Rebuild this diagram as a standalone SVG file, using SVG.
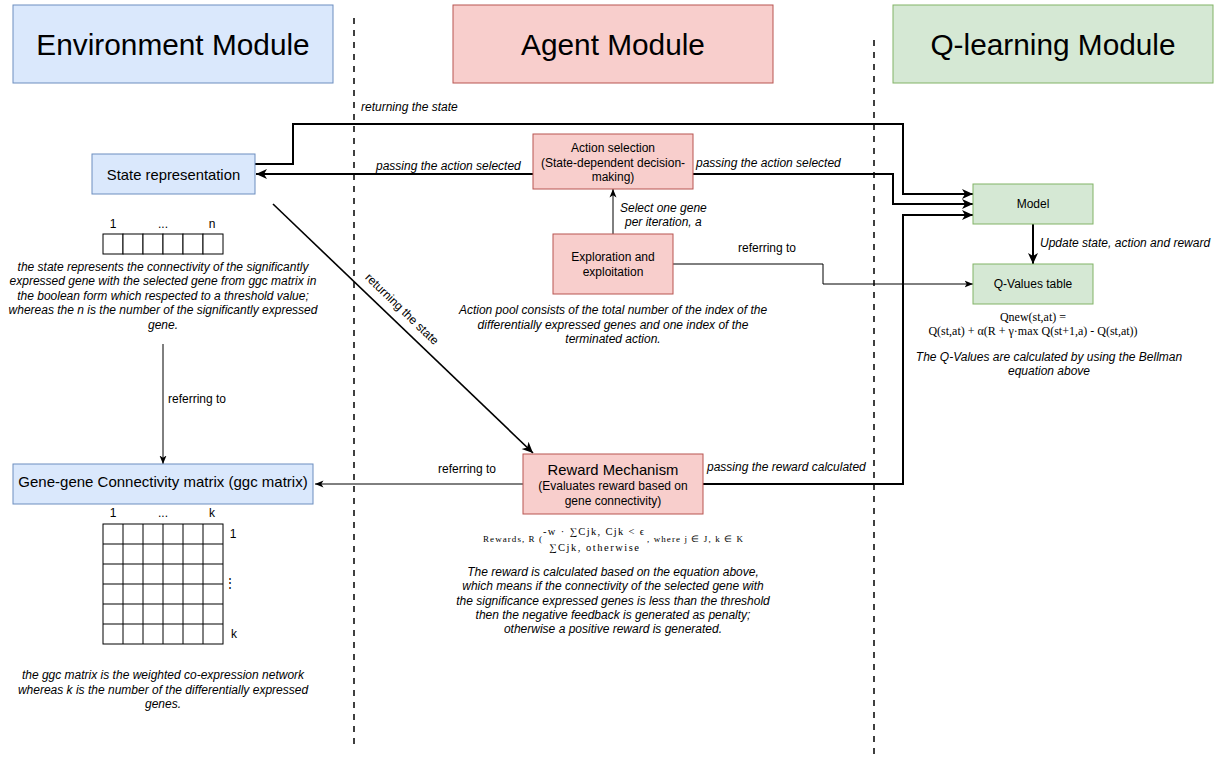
<svg xmlns="http://www.w3.org/2000/svg" width="1217" height="760" viewBox="0 0 1217 760">
<style>
text{font-family:"Liberation Sans",Arial,sans-serif;fill:#000;}
.hdr{font-size:29.8px;text-anchor:middle;dominant-baseline:central;}
.lbl{font-size:12px;text-anchor:middle;dominant-baseline:central;}
.big{font-size:14.8px;text-anchor:middle;dominant-baseline:central;}
.it{font-size:12px;font-style:italic;text-anchor:middle;dominant-baseline:central;}
.itl{font-size:12px;font-style:italic;dominant-baseline:central;}
.el{font-size:12px;dominant-baseline:central;}
.ser{font-family:"Liberation Serif","Times New Roman",serif;}
.blue{fill:#dae8fc;stroke:#6c8ebf;stroke-width:1;}
.red{fill:#f8cecc;stroke:#b85450;stroke-width:1;}
.green{fill:#d5e8d4;stroke:#82b366;stroke-width:1;}
.cell{fill:#fff;stroke:#000;stroke-width:1;}
.sep{stroke:#000;stroke-width:1.5;stroke-dasharray:6 6;fill:none;}
.thick{fill:none;stroke:#000;stroke-width:2;marker-end:url(#ah);}
.thin{fill:none;stroke:#000;stroke-width:1;marker-end:url(#as);}
</style>
<defs>
<marker id="ah" markerUnits="userSpaceOnUse" markerWidth="12" markerHeight="12" viewBox="0 0 12 12" refX="11" refY="6" orient="auto">
<path d="M0,1 L11,6 L0,11 L3,6 z" fill="#000"/>
</marker>
<marker id="as" markerUnits="userSpaceOnUse" markerWidth="9" markerHeight="9" viewBox="0 0 9 9" refX="8.5" refY="4.5" orient="auto">
<path d="M0,1 L8.5,4.5 L0,8 L2.2,4.5 z" fill="#000"/>
</marker>
</defs>
<rect width="1217" height="760" fill="#fff"/>

<g id="separators">
<line class="sep" x1="354" y1="18" x2="354" y2="748"/>
<line class="sep" x1="874" y1="40" x2="874" y2="756"/>
</g>

<g id="env-header"><rect class="blue" x="13" y="5" width="320" height="78"/><text class="hdr" x="173" y="44">Environment Module</text></g>
<g id="agent-header"><rect class="red" x="453" y="5" width="320" height="78"/><text class="hdr" x="613" y="44">Agent Module</text></g>
<g id="q-header"><rect class="green" x="893" y="5" width="320" height="78"/><text class="hdr" x="1053" y="44">Q-learning Module</text></g>

<g id="connectors">
<path class="thick" d="M255,164 H293 V124 H903 V194 H973"/>
<path class="thick" d="M533,174 H256"/>
<path class="thick" d="M693,174 H893 V204 H973"/>
<path class="thick" d="M703,484 H903 V215 H973"/>
<path class="thick" d="M1033,224 V264"/>
<path class="thick" style="stroke-width:1.6" d="M273,204 L533,453"/>
<path class="thin" d="M613,234 V189"/>
<path class="thin" d="M673,264 H823 V284 H973"/>
<path class="thin" d="M163,344 V464"/>
<path class="thin" d="M523,484 H315"/>
<text class="itl" x="361" y="107">returning the state</text>
<text class="itl" x="376" y="166">passing the action selected</text>
<text class="itl" x="696" y="163">passing the action selected</text>
<text class="itl" x="620" y="208">Select one gene</text>
<text class="itl" x="625" y="222">per iteration, a</text>
<text class="el" x="738" y="248">referring to</text>
<text class="itl" x="1040" y="243">Update state, action and reward</text>
<text class="el" x="168" y="399">referring to</text>
<text class="el" x="438" y="469">referring to</text>
<text class="itl" x="707" y="467">passing the reward calculated</text>
<text class="el" x="0" y="0" text-anchor="middle" transform="translate(402,309) rotate(44)">returning the state</text>
</g>

<g id="state-representation">
<rect class="blue" x="92" y="154" width="163" height="40"/>
<text class="big" x="173.5" y="174.5">State representation</text>
</g>

<g id="state-array">
<rect class="cell" x="103" y="234" width="20" height="20"/>
<rect class="cell" x="123" y="234" width="20" height="20"/>
<rect class="cell" x="143" y="234" width="20" height="20"/>
<rect class="cell" x="163" y="234" width="20" height="20"/>
<rect class="cell" x="183" y="234" width="20" height="20"/>
<rect class="cell" x="203" y="234" width="20" height="20"/>
<text class="lbl" x="113" y="224">1</text>
<text class="lbl" x="163" y="224">...</text>
<text class="lbl" x="212" y="224">n</text>
<text class="it" x="163" y="267">the state represents the connectivity of the significantly</text>
<text class="it" x="163" y="281">expressed gene with the selected gene from ggc matrix in</text>
<text class="it" x="163" y="295.5">the boolean form which respected to a threshold value;</text>
<text class="it" x="163" y="310">whereas the n is the number of the significantly expressed</text>
<text class="it" x="163" y="324.5">gene.</text>
</g>

<g id="action-selection">
<rect class="red" x="533" y="134" width="160" height="55"/>
<text class="lbl" x="613" y="148">Action selection</text>
<text class="lbl" x="613" y="162.5">(State-dependent decision-</text>
<text class="lbl" x="613" y="177">making)</text>
</g>

<g id="exploration">
<rect class="red" x="553" y="234" width="120" height="60"/>
<text class="lbl" x="613" y="256.5">Exploration and</text>
<text class="lbl" x="613" y="272">exploitation</text>
<text class="it" x="613" y="310">Action pool consists of the total number of the index of the</text>
<text class="it" x="613" y="324.5">differentially expressed genes and one index of the</text>
<text class="it" x="613" y="339">terminated action.</text>
</g>

<g id="model">
<rect class="green" x="973" y="184" width="120" height="40"/>
<text class="lbl" x="1033" y="204">Model</text>
</g>

<g id="q-values">
<rect class="green" x="973" y="264" width="120" height="40"/>
<text class="lbl" x="1033" y="284">Q-Values table</text>
<text class="lbl ser" x="1033" y="317">Qnew(st,at) =</text>
<text class="lbl ser" x="1033" y="331">Q(st,at) + α(R + γ·max Q(st+1,a) - Q(st,at))</text>
<text class="it" x="1049" y="357">The Q-Values are calculated by using the Bellman</text>
<text class="it" x="1049" y="371">equation above</text>
</g>

<g id="reward-mechanism">
<rect class="red" x="523" y="454" width="180" height="60"/>
<text class="big" x="613" y="470">Reward Mechanism</text>
<text class="lbl" x="613" y="486">(Evaluates reward based on</text>
<text class="lbl" x="613" y="501">gene connectivity)</text>
<text class="ser" x="483" y="542" font-size="9" textLength="59" lengthAdjust="spacing">Rewards, R (</text>
<text class="ser" x="543" y="535" font-size="10.5" textLength="101" lengthAdjust="spacing">-w · ∑Cjk, Cjk  &lt;  ϵ</text>
<text class="ser" x="549" y="551" font-size="10.5" textLength="90" lengthAdjust="spacing">∑Cjk, otherwise</text>
<text class="ser" x="647" y="542" font-size="9" textLength="96" lengthAdjust="spacing">, where j ∈ J, k ∈ K</text>
<text class="it" x="613" y="572">The reward is calculated based on the equation above,</text>
<text class="it" x="613" y="586">which means if the connectivity of the selected gene with</text>
<text class="it" x="613" y="600.5">the significance expressed genes is less than the threshold</text>
<text class="it" x="613" y="614.5">then the negative feedback is generated as penalty;</text>
<text class="it" x="613" y="629">otherwise a positive reward is generated.</text>
</g>

<g id="ggc-matrix">
<rect class="blue" x="13" y="464" width="300" height="40"/>
<text class="big" x="163" y="481" style="font-size:15px">Gene-gene Connectivity matrix (ggc matrix)</text>
<g fill="none" stroke="#000" stroke-width="1">
<rect x="103" y="524" width="120" height="120"/>
<path d="M123,524 V644 M143,524 V644 M163,524 V644 M183,524 V644 M203,524 V644 M103,544 H223 M103,564 H223 M103,584 H223 M103,604 H223 M103,624 H223"/>
</g>
<text class="lbl" x="113" y="513">1</text>
<text class="lbl" x="163" y="513">...</text>
<text class="lbl" x="212" y="513">k</text>
<text class="lbl" x="233" y="534">1</text>
<text class="lbl" x="230" y="583">⋮</text>
<text class="lbl" x="234" y="634">k</text>
<text class="it" x="163" y="675">the ggc matrix is the weighted co-expression network</text>
<text class="it" x="163" y="689.5">whereas k is the number of the differentially expressed</text>
<text class="it" x="163" y="704">genes.</text>
</g>
</svg>
